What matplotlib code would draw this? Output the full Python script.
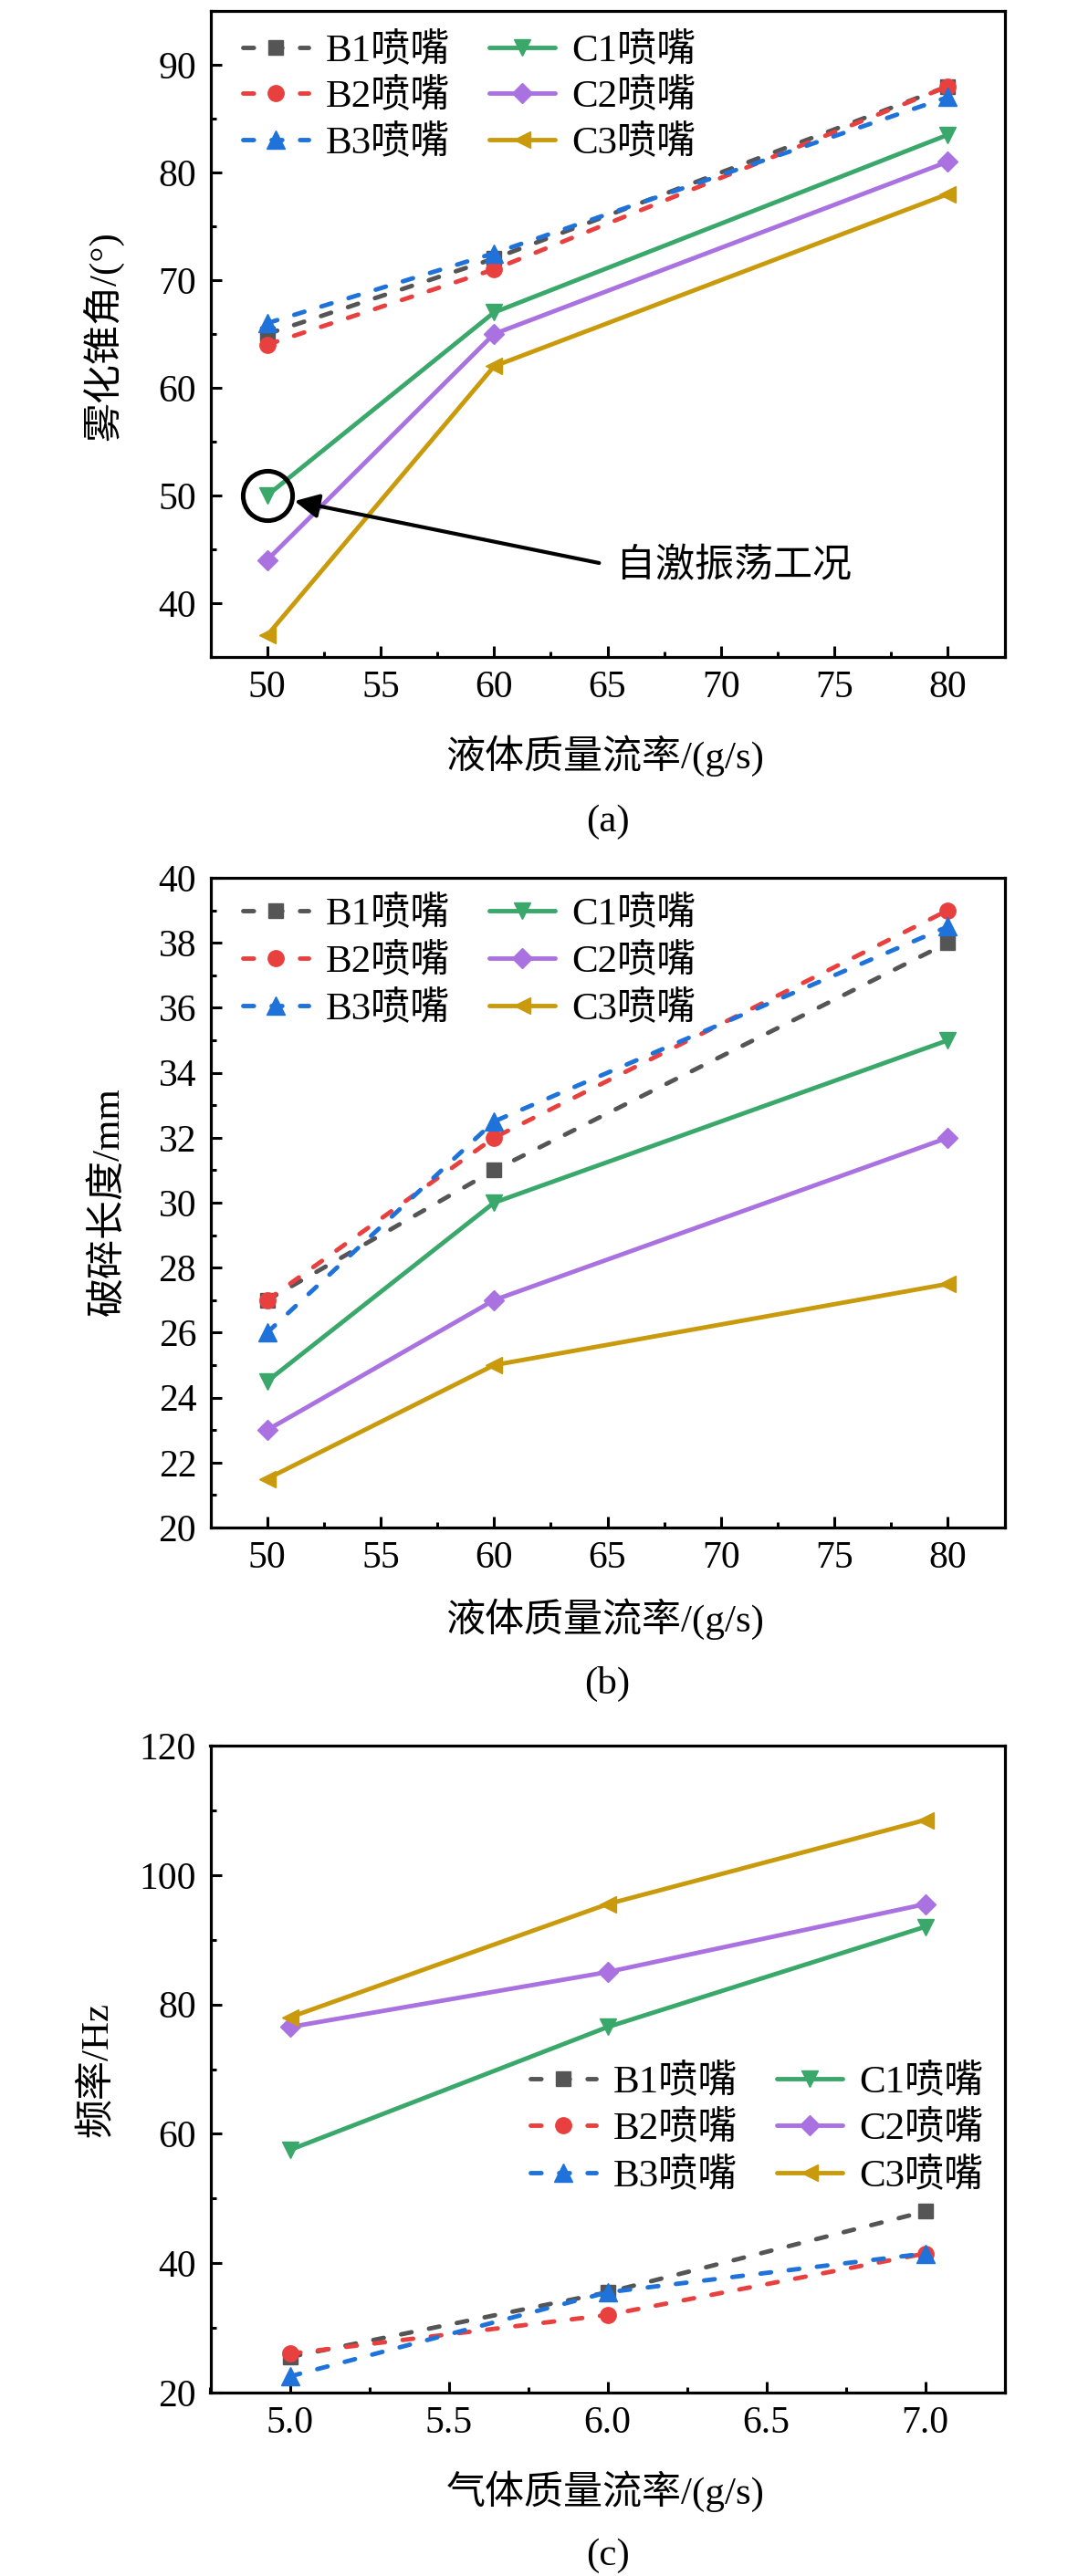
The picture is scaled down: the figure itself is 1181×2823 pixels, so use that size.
import matplotlib
matplotlib.use("Agg")
import matplotlib.pyplot as plt
from matplotlib.ticker import MultipleLocator, AutoMinorLocator, FormatStrFormatter

plt.rcParams['font.family'] = ['Liberation Serif', 'Noto Sans CJK SC']
plt.rcParams['axes.unicode_minus'] = False

# ---------------- data ----------------
liquid_flow = [50, 60, 80]
gas_flow = [5.0, 6.0, 7.0]

labels = ['B1喷嘴', 'B2喷嘴', 'B3喷嘴', 'C1喷嘴', 'C2喷嘴', 'C3喷嘴']

# (a) spray cone angle
angle_B1 = [65, 72, 88]
angle_B2 = [64, 71, 88]
angle_B3 = [66, 72.5, 87]
angle_C1 = [50, 67, 83.5]
angle_C2 = [44, 65, 81]
angle_C3 = [37, 62, 78]

# (b) breakup length
length_B1 = [27, 31, 38]
length_B2 = [27, 32, 39]
length_B3 = [26, 32.5, 38.5]
length_C1 = [24.5, 30, 35]
length_C2 = [23, 27, 32]
length_C3 = [21.5, 25, 27.5]

# (c) frequency
freq_B1 = [25.5, 35.5, 48]
freq_B2 = [26, 32, 41.5]
freq_B3 = [22.5, 35.5, 41.5]
freq_C1 = [57.5, 76.5, 92]
freq_C2 = [76.5, 85, 95.5]
freq_C3 = [78, 95.5, 108.5]

# ---------------- styles ----------------
colors = ['#555555', '#e8403f', '#1f72d9', '#3aa86b', '#a972e0', '#c99a0b']
markers = ['s', 'o', '^', 'v', 'D', '<']
msizes = [12, 12.5, 14, 13, 11, 13]
dashed = [True, True, True, False, False, False]

W, H = 1181, 2823
fig = plt.figure(figsize=(W / 100, H / 100), dpi=100)

FS_TICK = 30
FS_LAB = 31
FS_PX = FS_LAB * 100 / 72.0

def px_axes(top, bottom, left=230.5, right=1100.6):
    return [left / W, 1 - bottom / H, (right - left) / W, (bottom - top) / H]

def style_axes(ax):
    for s in ax.spines.values():
        s.set_linewidth(2.3)
    ax.tick_params(which='both', direction='in', top=False, right=False,
                   labelsize=FS_TICK, width=2.2)
    ax.tick_params(axis='x', which='both', pad=10.5)
    ax.tick_params(axis='y', which='both', pad=11)
    ax.tick_params(which='major', length=8.6)
    ax.tick_params(which='minor', length=4.3)

def draw_series(ax, x, series):
    for i, y in enumerate(series):
        kw = dict(color=colors[i], marker=markers[i], ms=msizes[i], lw=3.5,
                  label=labels[i], mec=colors[i], mfc=colors[i])
        if dashed[i]:
            ax.plot(x, y, linestyle=(0, (2.4, 4.0)), dash_capstyle='round', **kw)
        else:
            ax.plot(x, y, linestyle='-', solid_capstyle='round', **kw)

def fit_legend(ax, handle_y, text_x, gap, col2):
    """Place a 2-column legend so that its first handle / text land on the
    given pixel positions (layout only)."""
    ls, cs, ax_, ay = 0.25, 0.95, 0.03, 0.96
    leg = None
    for _ in range(4):
        leg = ax.legend(loc='upper left', bbox_to_anchor=(ax_, ay), ncol=2,
                        frameon=False, fontsize=FS_LAB, borderpad=0,
                        borderaxespad=0, handlelength=1.67, handletextpad=0.44,
                        columnspacing=cs, labelspacing=ls)
        fig.canvas.draw()
        r = fig.canvas.get_renderer()
        texts = leg.get_texts()
        hs = leg.legend_handles

        def cy(a):
            e = a.get_window_extent(r)
            return H - (e.y0 + e.y1) / 2

        y0, y1 = cy(hs[0]), cy(hs[1])
        x0 = texts[0].get_window_extent(r).x0
        x3 = texts[3].get_window_extent(r).x0
        bb = ax.get_window_extent(r)
        ls += (gap - (y1 - y0)) / FS_PX
        cs += (col2 - (x3 - x0)) / FS_PX
        ax_ += (text_x - x0) / bb.width
        ay -= (handle_y - y0) / bb.height
    return leg

# ---------- panel (a) ----------
axA = fig.add_axes(px_axes(12, 720))
draw_series(axA, liquid_flow, [angle_B1, angle_B2, angle_B3, angle_C1, angle_C2, angle_C3])
axA.set_xlim(47.5, 82.5)
axA.set_ylim(35, 95)
axA.xaxis.set_major_locator(MultipleLocator(5))
axA.xaxis.set_minor_locator(AutoMinorLocator(2))
axA.yaxis.set_major_locator(MultipleLocator(10))
axA.yaxis.set_minor_locator(AutoMinorLocator(2))
style_axes(axA)
# self-excited oscillation marker
axA.plot(liquid_flow[0], angle_C1[0], marker='o', ms=39, mfc='none', mec='k', mew=3.6, zorder=5)
axA.annotate('自激振荡工况', xy=(liquid_flow[0], angle_C1[0]), xytext=(65.4, 43.4),
             fontsize=FS_LAB, ha='left', va='center',
             arrowprops=dict(arrowstyle='-|>', color='k', lw=3.0, mutation_scale=40,
                             shrinkA=12, shrinkB=22, relpos=(0, 0.5)))

# ---------- panel (b) ----------
axB = fig.add_axes(px_axes(962, 1674))
draw_series(axB, liquid_flow, [length_B1, length_B2, length_B3, length_C1, length_C2, length_C3])
axB.set_xlim(47.5, 82.5)
axB.set_ylim(20, 40)
axB.xaxis.set_major_locator(MultipleLocator(5))
axB.xaxis.set_minor_locator(AutoMinorLocator(2))
axB.yaxis.set_major_locator(MultipleLocator(2))
axB.yaxis.set_minor_locator(AutoMinorLocator(2))
style_axes(axB)

# ---------- panel (c) ----------
axC = fig.add_axes(px_axes(1913, 2622))
draw_series(axC, gas_flow, [freq_B1, freq_B2, freq_B3, freq_C1, freq_C2, freq_C3])
axC.set_xlim(4.75, 7.25)
axC.set_ylim(20, 120)
axC.xaxis.set_major_locator(MultipleLocator(0.5))
axC.xaxis.set_minor_locator(AutoMinorLocator(2))
axC.xaxis.set_major_formatter(FormatStrFormatter('%.1f'))
axC.yaxis.set_major_locator(MultipleLocator(20))
axC.yaxis.set_minor_locator(AutoMinorLocator(2))
style_axes(axC)

# ---------- axis labels & captions ----------
def ftext(x, y, s, **kw):
    fig.text(x / W, 1 - y / H, s, fontsize=FS_LAB, ha='center', va='center', **kw)

ftext(663, 828, '液体质量流率/(g/s)')
ftext(665.5, 901, '(a)')
ftext(114, 368, '雾化锥角/(°)', rotation=90)

ftext(663, 1774, '液体质量流率/(g/s)')
ftext(665.5, 1845, '(b)')
ftext(119, 1317, '破碎长度/mm', rotation=90)

ftext(663, 2730, '气体质量流率/(g/s)')
ftext(665.5, 2801, '(c)')
ftext(106, 2268, '频率/Hz', rotation=90)

# legends (positions fitted to the reference layout)
fit_legend(axA, 51.7, 356.7, 50.8, 270)
fit_legend(axB, 998.3, 356.7, 51.7, 270)
fit_legend(axC, 2277.7, 671.7, 51.7, 270)

fig.savefig('out.png', dpi=100)
